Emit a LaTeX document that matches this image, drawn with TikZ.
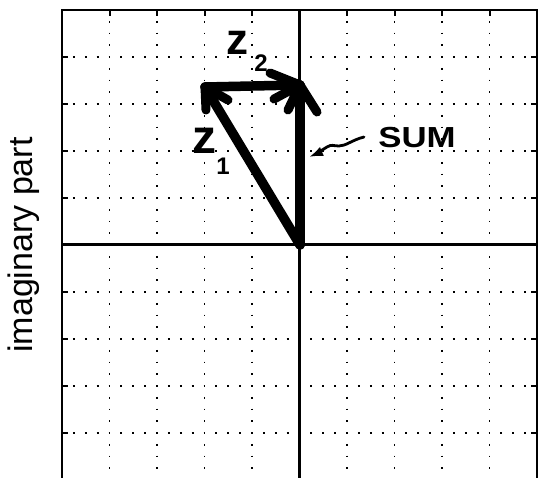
\documentclass[tikz,border=0pt]{standalone}
\usepackage{fontspec}
\setmainfont{Liberation Sans}
\usetikzlibrary{arrows.meta}
\tikzset{
  gridv/.style={line width=1.8pt, dash pattern=on 1.8pt off 9.95pt, dash phase=0.9pt},
  gridh/.style={line width=1.8pt, dash pattern=on 1.8pt off 10.075pt, dash phase=0.9pt},
  axisline/.style={line width=3pt},
  vec/.style={line width=9.5pt, line cap=round, line join=round},
  barb/.style={line width=9pt, line cap=round},
  tickm/.style={line width=2pt},
  hand/.style={font=\bfseries, inner sep=0pt}
}
\begin{document}
\begin{tikzpicture}[x=1pt,y=-1pt]
\useasboundingbox (0,0) rectangle (542,478);
\clip (0,0) rectangle (542,478);
\fill[white] (0,0) rectangle (542,478);
% dotted grid
\foreach \gx in {109.5,157,204.5,252,347,394.5,442,489.5}
  \draw[gridv] (\gx,10) -- (\gx,480);
\foreach \gy in {57,104,151,198,292,339,386,433}
  \draw[gridh] (62,\gy) -- (537,\gy);
% ticks
\foreach \gx in {109.5,157,204.5,252,347,394.5,442,489.5}
  \draw[tickm] (\gx,10) -- (\gx,16);
\foreach \gy in {57,104,151,198,292,339,386,433}
  {\draw[tickm] (62,\gy) -- (68,\gy);
   \draw[tickm] (537,\gy) -- (531,\gy);}
% frame
\draw[line width=2.5pt] (62,490) -- (62,10) -- (537,10) -- (537,490);
% axes
\draw[axisline] (62,245) -- (537,245);
\draw[axisline] (299.5,10) -- (299.5,490);
% axis label
\node[rotate=90, anchor=base, font=\fontsize{34}{40}\selectfont] (ylab) at (33,245) {imaginary part};
% vectors
\coordinate (O) at (300,245);
\coordinate (A) at (205,87);
\coordinate (B) at (300,85);
\draw[vec] (O) -- (A);
\draw[vec] (A) -- (B);
\draw[vec] (O) -- (B);
% arrow barbs
\coordinate (a1) at (206,110);
\coordinate (a2) at (228,100);
\coordinate (b1) at (270,73);
\coordinate (b2) at (274,99);
\coordinate (c1) at (288,110);
\coordinate (c2) at (317,112);
\draw[barb] (A) -- (a1);
\draw[barb] (A) -- (a2);
\draw[barb] (B) -- (b1);
\draw[barb] (B) -- (b2);
\draw[barb] (B) -- (c1);
\draw[barb] (B) -- (c2);
% labels
\node[hand, font=\bfseries\fontsize{48}{48}\selectfont] (z1) at (204,141) {z};
\node[hand, font=\bfseries\fontsize{24}{24}\selectfont] (one) at (223,166) {1};
\node[hand, font=\bfseries\fontsize{44}{44}\selectfont] (z2) at (237,43) {z};
\node[hand, font=\bfseries\fontsize{24}{24}\selectfont] (two) at (261,63) {2};
\node[hand, font=\bfseries\fontsize{29}{29}\selectfont, xscale=1.2] (sum) at (417,138) {SUM};
% pointer to sum
\coordinate (st) at (364,137);
\coordinate (sh) at (309,157);
\draw[line width=2.8pt, line cap=round, -{Latex[length=14pt,width=10pt]}]
  (st) .. controls (352,140) and (346,146) .. (339,146)
  .. controls (333,146) and (332,144) .. (327,147)
  .. controls (322,150) and (316,154) .. (sh);
\end{tikzpicture}
\end{document}
